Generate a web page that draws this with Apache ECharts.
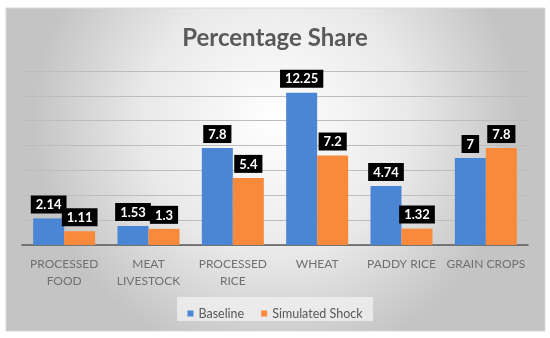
<!DOCTYPE html>
<html><head><meta charset="utf-8">
<script src="https://cdn.jsdelivr.net/npm/echarts@6/dist/echarts.min.js"></script>
<style>html,body{margin:0;padding:0;background:#fff}#c{width:550px;height:338px}</style>
</head><body><div id="c"></div>
<script>
const categories = ["PROCESSED\nFOOD", "MEAT\nLIVESTOCK", "PROCESSED\nRICE", "WHEAT", "PADDY RICE", "GRAIN CROPS"];
const baseline = [2.14, 1.53, 7.8, 12.25, 4.74, 7];
const shock = [1.11, 1.3, 5.4, 7.2, 1.32, 7.8];
const seriesNames = ["Baseline", "Simulated Shock"];
const FONT = "Lato, 'Open Sans', sans-serif";
const chart = echarts.init(document.getElementById('c'));
const lbl = {
  show: true, position: 'top', distance: 5,
  backgroundColor: '#000', color: '#fff', fontWeight: 'bold',
  fontFamily: FONT, fontSize: 13, padding: [3, 5, 2, 5]
};
chart.setOption({
  animation: false,
  graphic: [{
    type: 'rect', z: -10, silent: true,
    shape: {x: 6, y: 8, width: 539, height: 323},
    style: {
      fill: {type: 'radial', x: 0.5, y: 0.35, r: 0.75,
        colorStops: [{offset: 0, color: '#ffffff'}, {offset: 0.55, color: '#e9e9e9'}, {offset: 1, color: '#c4c4c4'}]},
      stroke: '#d9d9d9', lineWidth: 1
    }
  }, {
    type: 'rect', z: -5, silent: true,
    shape: {x: 177, y: 297, width: 196, height: 24},
    style: {fill: 'rgba(242,242,242,0.75)'}
  }],
  title: {
    text: 'Percentage Share', left: 'center', top: 21,
    textStyle: {fontFamily: FONT, fontSize: 24, fontWeight: 'bold', color: '#595959'}
  },
  legend: {
    data: seriesNames, top: 302, left: 'center', itemWidth: 6, itemHeight: 6, itemGap: 17,
    icon: 'rect',
    textStyle: {fontFamily: FONT, fontSize: 12.5, color: '#595959'}
  },
  grid: {left: 22, right: 22, top: 71, bottom: 93},
  xAxis: {
    type: 'category', data: categories,
    axisLine: {lineStyle: {color: '#595959', width: 1.5}},
    axisTick: {show: false},
    axisLabel: {fontFamily: FONT, fontSize: 12, color: '#707070', lineHeight: 17, margin: 11, interval: 0}
  },
  yAxis: {
    type: 'value', min: 0, max: 14, interval: 2,
    axisLabel: {show: false}, axisLine: {show: false}, axisTick: {show: false},
    splitLine: {lineStyle: {color: '#bdbdbd', width: 1}}
  },
  series: [
    {name: seriesNames[0], type: 'bar', data: baseline, barWidth: 31, barGap: '0%',
     itemStyle: {color: '#4a86d3'}, label: lbl},
    {name: seriesNames[1], type: 'bar', data: shock, barWidth: 31,
     itemStyle: {color: '#fa8a3b'}, label: lbl}
  ]
});
</script></body></html>
